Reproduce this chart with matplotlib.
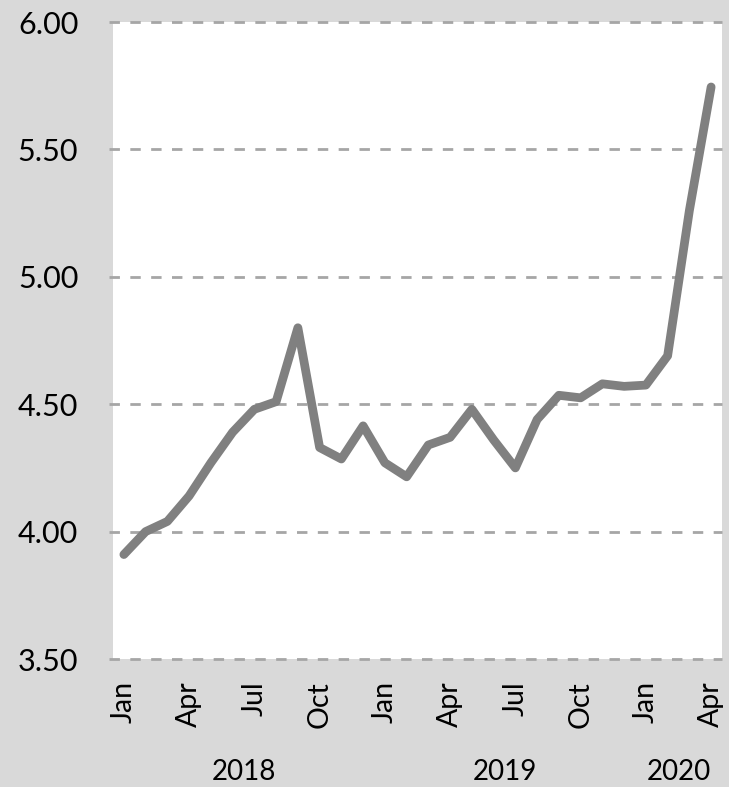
import matplotlib
matplotlib.use("Agg")
import matplotlib.pyplot as plt
import matplotlib.transforms as mtransforms

plt.rcParams['font.family'] = ['Lato', 'DejaVu Sans']
plt.rcParams['lines.scale_dashes'] = False

# Data (monthly, Jan 2018 - Apr 2020)
months = ["Jan", "Feb", "Mar", "Apr", "May", "Jun", "Jul", "Aug", "Sep", "Oct", "Nov", "Dec",
          "Jan", "Feb", "Mar", "Apr", "May", "Jun", "Jul", "Aug", "Sep", "Oct", "Nov", "Dec",
          "Jan", "Feb", "Mar", "Apr"]
values = [3.91, 4.00, 4.04, 4.14, 4.27, 4.39, 4.48, 4.51, 4.80, 4.33, 4.285, 4.415,
          4.27, 4.215, 4.34, 4.37, 4.48, 4.36, 4.25, 4.44, 4.535, 4.525, 4.58, 4.57,
          4.575, 4.69, 5.26, 5.745]
years = ["2018", "2019", "2020"]
year_counts = [12, 12, 4]
yticks = [3.50, 4.00, 4.50, 5.00, 5.50, 6.00]

W, H = 729, 787
fig = plt.figure(figsize=(W / 100, H / 100), dpi=100)
fig.patch.set_facecolor('#d9d9d9')
left, right, top, bottom = 113, 722, 22, 659
ax = fig.add_axes([left / W, 1 - bottom / H, (right - left) / W, (bottom - top) / H])
ax.set_facecolor('white')

x = list(range(len(values)))
ax.plot(x, values, color='#808080', linewidth=6.3, solid_capstyle='round',
        solid_joinstyle='round', zorder=3)

ax.set_xlim(-0.5, len(values) - 0.5)
ax.set_ylim(3.5, 6.0)
ax.set_yticks(yticks)
ax.set_yticklabels([f"{v:.2f}" for v in yticks], fontsize=22)
for v in yticks:
    ax.axhline(v, color='#a6a6a6', linewidth=2.0, linestyle=(0, (7.5, 7.5)), zorder=1,
               clip_on=False, xmin=-0.006)

tick_pos = [i for i in x if i % 3 == 0]
ax.set_xticks(tick_pos)
ax.set_xticklabels([months[i] for i in tick_pos], rotation=90, fontsize=20.5)
ax.tick_params(axis='both', length=0, colors='black')
ax.tick_params(axis='y', pad=25)
ax.tick_params(axis='x', pad=16)
for s in ax.spines.values():
    s.set_visible(False)

trans = mtransforms.blended_transform_factory(ax.transData, fig.transFigure)
start = 0
for yr, n in zip(years, year_counts):
    center = start + (n - 1) / 2
    ax.text(center, 1 - 780 / H, yr, transform=trans, ha='center', va='baseline',
            fontsize=20, color='black')
    start += n

fig.savefig('out.png', dpi=100, facecolor=fig.get_facecolor())
